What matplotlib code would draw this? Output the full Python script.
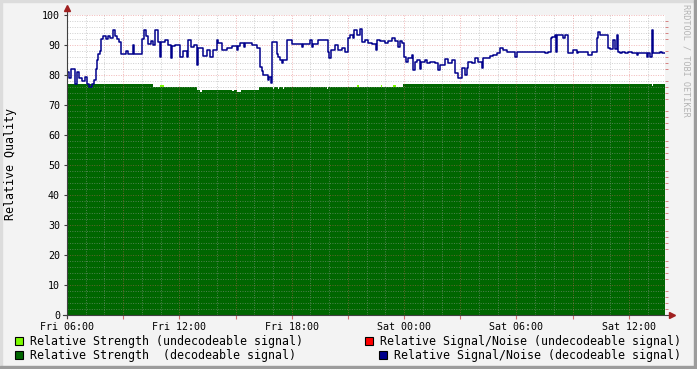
import numpy as np
import matplotlib
matplotlib.use('Agg')
import matplotlib.pyplot as plt
from matplotlib.patches import Rectangle

# minutes since Fri 06:00 / value (step data)
snr_min = [0, 6, 13, 26, 32, 38, 48, 58, 64, 70, 80, 86, 93, 96, 99, 106, 109, 115, 125, 131,
           138, 147, 154, 160, 167, 173, 189, 195, 211, 215, 240, 247, 253, 259, 269, 276, 282, 292, 298, 301,
           314, 324, 333, 336, 346, 362, 372, 384, 388, 397, 407, 416, 420, 436, 448, 458, 468, 481, 484, 497,
           513, 529, 545, 548, 554, 567, 570, 593, 609, 618, 625, 628, 634, 644, 647, 653, 657, 673, 676, 682,
           689, 692, 705, 721, 737, 753, 756, 778, 785, 788, 804, 836, 839, 846, 859, 868, 881, 891, 900, 907,
           916, 919, 929, 939, 945, 955, 964, 977, 990, 993, 1003, 1019, 1028, 1041, 1051, 1060, 1067, 1073, 1080, 1086,
           1092, 1105, 1108, 1115, 1121, 1131, 1134, 1147, 1153, 1163, 1179, 1188, 1195, 1204, 1211, 1221, 1233, 1243, 1253, 1265,
           1275, 1281, 1285, 1297, 1307, 1317, 1329, 1333, 1355, 1365, 1378, 1387, 1397, 1410, 1426, 1435, 1442, 1458, 1531, 1541,
           1550, 1554, 1563, 1566, 1570, 1589, 1595, 1605, 1621, 1634, 1637, 1659, 1669, 1682, 1698, 1701, 1708, 1733, 1740, 1749,
           1756, 1762, 1765, 1772, 1778, 1788, 1797, 1810, 1826, 1829, 1858, 1861, 1868, 1874, 1877, 1900, 1906]
snr_val = [81, 79, 82, 77, 81, 79, 78, 79.5, 77, 76, 77, 78.5, 82, 85, 87, 88, 92, 93, 92, 93,
           92.5, 95, 93, 92, 91, 87, 88, 87, 90, 87, 92, 95, 93, 90.5, 91.5, 90, 95, 91, 86, 91,
           91.7, 90, 85.6, 89.6, 90, 86, 88, 86, 91.7, 89.5, 90, 83.3, 89, 86.2, 88.3, 86, 88.3, 91.7, 90.6, 88.3,
           89, 89.6, 88.5, 89.6, 90.6, 89.5, 90.6, 90, 89, 82.8, 81.5, 80, 80, 78.3, 79.4, 77.2, 91.1, 87, 86, 85,
           84, 85, 91.7, 90.5, 90.2, 89.5, 90.5, 91.7, 89.5, 90.5, 91.7, 87.8, 85.6, 88.3, 90, 88.3, 88.9, 87.8, 92.2, 93.3,
           92.2, 95, 93.5, 95.5, 91, 91.7, 90.6, 90.2, 88.3, 91.7, 91.2, 90.6, 91.2, 92.4, 91.2, 89.5, 91.2, 90.6, 86, 84.4,
           85.6, 86.7, 81.7, 84.4, 85, 82, 84.4, 85, 83.9, 84.4, 83.9, 81.7, 83.3, 83.3, 85.5, 83.9, 85, 80.6, 78.9, 82.2,
           80, 82.2, 84.4, 83.9, 85.6, 84.4, 82.2, 85.6, 86.2, 86.7, 87.2, 89, 88.3, 87.6, 87.8, 86, 87.8, 87.6, 87.2, 87.8,
           92.2, 92.8, 93.3, 87.8, 93.3, 92.2, 93.3, 87.2, 88.3, 87.2, 87.7, 87.6, 86.7, 87.6, 92.2, 94.4, 93.3, 89, 88.8, 91.7,
           88.8, 93.3, 87.6, 87.2, 87.7, 87.2, 87.6, 87.2, 86.8, 87.2, 86, 87.2, 86, 95, 87.2, 87.6, 87.2]

str_min = [0, 276, 416, 426, 432, 529, 535, 545, 558, 615, 660, 663, 676, 679, 692, 696, 833, 836, 1076, 1874, 1877]
str_val = [77, 76, 75, 74.4, 75, 74.6, 75, 74.4, 75, 76, 75.5, 76, 75.5, 76, 75.5, 76, 75.5, 76, 77, 76.5, 77]

# undecodeable strength patches: start, end (minutes), value
weak_start = [298, 928, 1005, 1046]
weak_end = [312, 936, 1010, 1054]
weak_val = [76.8, 76.8, 76.6, 76.6]

end_min = 1916
xlabels = ['Fri 06:00', '', 'Fri 12:00', '', 'Fri 18:00', '', 'Sat 00:00', '', 'Sat 06:00', '', 'Sat 12:00']

W, H = 697, 369
mono = 'DejaVu Sans Mono'

fig = plt.figure(figsize=(W / 100, H / 100), dpi=100, facecolor='#F3F3F3')
# shaded frame
fig.patches.append(Rectangle((0, 1 - 2 / H), 1, 2 / H, transform=fig.transFigure, color='#DCDCDC', zorder=0))
fig.patches.append(Rectangle((0, 0), 2 / W, 1, transform=fig.transFigure, color='#DCDCDC', zorder=0))
fig.patches.append(Rectangle((0, 0), 1, 3 / H, transform=fig.transFigure, color='#9C9C9C', zorder=0))
fig.patches.append(Rectangle((1 - 3 / W, 0), 3 / W, 1, transform=fig.transFigure, color='#9C9C9C', zorder=0))

ax = fig.add_axes([67 / W, 54 / H, 598 / W, 300 / H])
ax.set_facecolor('white')

t_s = np.append(np.array(snr_min), end_min) / 60.0
v_s = np.append(snr_val, snr_val[-1])
t_g = np.append(np.array(str_min), end_min) / 60.0
v_g = np.append(str_val, str_val[-1])

for s, e, v in zip(weak_start, weak_end, weak_val):
    ax.fill_between([s / 60.0, e / 60.0], 0, [v, v], color='#7CFC00', lw=0, zorder=1)
ax.fill_between(t_g, 0, v_g, step='post', color='#006600', lw=0, zorder=1.1)
ax.step(t_s, v_s, where='post', color='#00008C', lw=1.1, zorder=2)

ax.set_xlim(0, end_min / 60.0)
ax.set_ylim(0, 100)
ax.set_xticks(np.arange(0, 31, 3))
ax.set_xticklabels(xlabels, fontfamily=mono, fontsize=7.2)
ax.set_xticks(np.arange(0, 32, 1), minor=True)
ax.set_yticks(np.arange(0, 101, 10))
ax.set_yticklabels([str(v) for v in range(0, 101, 10)], fontfamily=mono, fontsize=7.2)
ax.set_yticks(np.arange(0, 101, 2), minor=True)

ax.set_axisbelow('line')
ax.grid(which='minor', color='#A0A0A0', alpha=0.5, ls=(0, (1, 1.5)), lw=0.7)
ax.grid(which='major', color='#E06060', alpha=0.45, ls=(0, (1, 1.5)), lw=0.7)

ax.tick_params(axis='x', which='major', length=3, color='#D07070', pad=2)
ax.tick_params(axis='x', which='minor', length=0)
ax.tick_params(axis='y', which='major', length=2, color='#404040', pad=3)
ax.tick_params(axis='y', which='minor', length=2, color='#D07070', left=False, right=True)
for sp in ax.spines.values():
    sp.set_visible(False)

# axes with arrows
ax.plot([-4 / 598, 1 + 5 / 598], [0, 0], color='#404040', lw=0.8, transform=ax.transAxes, clip_on=False, zorder=3)
ax.plot([0, 0], [-3 / 300, 1 + 4 / 300], color='#404040', lw=0.8, transform=ax.transAxes, clip_on=False, zorder=3)
ax.plot([1 + 7 / 598], [0], marker='>', ms=4, color='#A02020', transform=ax.transAxes, clip_on=False, zorder=3)
ax.plot([0], [1 + 7 / 300], marker='^', ms=4, color='#A02020', transform=ax.transAxes, clip_on=False, zorder=3)

fig.text(11 / W, 1 - 164 / H, 'Relative Quality', rotation=90, ha='center', va='center',
         fontfamily=mono, fontsize=8.4)
fig.text(686 / W, 1 - 4 / H, 'RRDTOOL / TOBI OETIKER', rotation=270, ha='center', va='top',
         fontfamily=mono, fontsize=6.1, color='#B4B4B4')

legend_items = [
    (15, 341, '#7CFC00', 'Relative Strength (undecodeable signal)'),
    (15, 355, '#006600', 'Relative Strength  (decodeable signal)'),
    (365, 341, '#FF0000', 'Relative Signal/Noise (undecodeable signal)'),
    (379, 355, '#00008C', 'Relative Signal/Noise (decodeable signal)'),
]
for x0, yc, col, label in legend_items:
    fig.patches.append(Rectangle((x0 / W, 1 - (yc + 4) / H), 8 / W, 8 / H, transform=fig.transFigure,
                                 facecolor=col, edgecolor='black', lw=0.8))
    fig.text((x0 + 15) / W, 1 - yc / H, label, ha='left', va='center', fontfamily=mono, fontsize=8.35)

fig.savefig('out.png', dpi=100, facecolor=fig.get_facecolor())
